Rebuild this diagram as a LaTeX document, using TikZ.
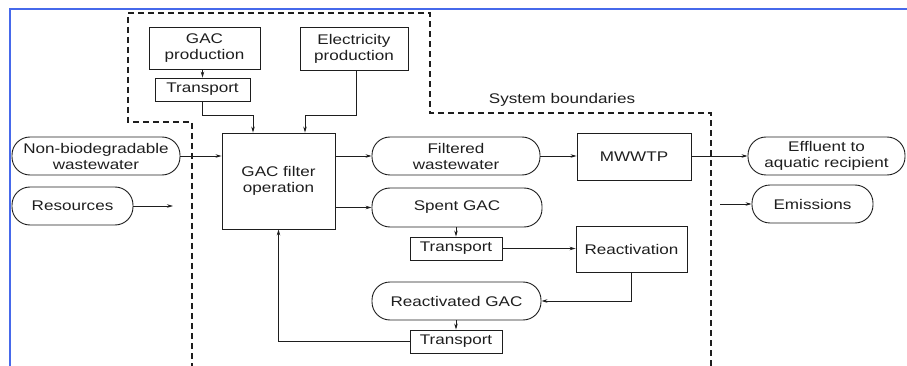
\documentclass[tikz,border=0pt]{standalone}
\usepackage{fontspec}
\setmainfont[FakeStretch=1.22]{Liberation Sans}
\usetikzlibrary{arrows.meta,calc}
\definecolor{frameblue}{RGB}{70,105,235}
\definecolor{ink}{RGB}{30,30,30}
\begin{document}
\begin{tikzpicture}[x=1pt,y=-1pt,
  every node/.style={font=\fontsize{14}{16}\selectfont, text=ink, align=center, inner sep=0pt},
  box/.style={draw=ink, line width=0.9pt, rectangle},
  pill/.style={draw=ink, line width=0.9pt, rectangle, rounded corners=18pt},
  arr/.style={draw=ink, line width=0.8pt, -{Stealth[length=6pt,width=3.5pt]}},
  bound/.style={draw=ink, line width=1.2pt, dash pattern=on 6pt off 4pt}]
\useasboundingbox (0,0) rectangle (907,366);
% blue frame lines
\draw[frameblue, line width=1.5pt] (10,366) -- (10,9) -- (907,9);
% system boundary
\draw[bound] (711,366) -- (711,113) -- (430,113) -- (430,13) -- (128,13) -- (128,122) -- (192,122) -- (192,366);
\node (sb) at (562,100) {System boundaries};
% nodes
\node[box, minimum width=111pt, minimum height=42pt] (gacprod) at (204.5,48) {GAC\\production};
\node[box, minimum width=95pt, minimum height=23pt] (tr1) at (202.5,89.5) {Transport};
\node[box, minimum width=108pt, minimum height=43pt] (elec) at (354,48.5) {Electricity\\production};
\node[box, minimum width=113pt, minimum height=96pt] (gac) at (278.5,181) {GAC filter\\operation};
\node[pill, minimum width=168pt, minimum height=38pt] (nb) at (96,156) {Non-biodegradable\\wastewater};
\node[pill, minimum width=121pt, minimum height=38pt] (res) at (72.5,206) {Resources};
\node[pill, minimum width=168pt, minimum height=38pt] (fw) at (456,156) {Filtered\\wastewater};
\node[box, minimum width=114pt, minimum height=47pt] (mw) at (634,156.5) {MWWTP};
\node[pill, minimum width=157pt, minimum height=38pt] (eff) at (826.5,156) {Effluent to\\aquatic recipient};
\node[pill, minimum width=170pt, minimum height=39pt] (sg) at (457,207.5) {Spent GAC};
\node[box, minimum width=92pt, minimum height=23pt] (tr2) at (456,248.5) {Transport};
\node[box, minimum width=111pt, minimum height=46pt] (rea) at (631.5,249) {Reactivation};
\node[pill, minimum width=169pt, minimum height=38pt] (rg) at (456.5,301) {Reactivated GAC};
\node[box, minimum width=92pt, minimum height=23pt] (tr3) at (456,341.5) {Transport};
\node[pill, minimum width=121pt, minimum height=38pt] (em) at (812.5,204) {Emissions};
\coordinate (resend) at (173,206);
\coordinate (emstart) at (720,204);
% connectors
\draw[arr] (tr1.north |- gacprod.south) -- (tr1.north);
\draw[arr] (tr1.south) -- ++(0,14) -| ([xshift=-25.5pt]gac.north);
\draw[arr] ([xshift=2pt]elec.south) -- ++(0,45) -| ([xshift=26.5pt]gac.north);
\draw[arr] (nb.east) -- (nb.east -| gac.west);
\draw[arr] (res.east) -- (resend);
\draw[arr] (fw.west -| gac.east) -- (fw.west);
\draw[arr] (fw.east) -- (fw.east -| mw.west);
\draw[arr] (eff.west -| mw.east) -- (eff.west);
\draw[arr] (sg.west -| gac.east) -- (sg.west);
\draw[arr] (tr2.north |- sg.south) -- (tr2.north);
\draw[arr] (tr2.east) -- (tr2.east -| rea.west);
\draw[arr] (rea.south) |- (rg.east);
\draw[arr] (tr3.north |- rg.south) -- (tr3.north);
\draw[arr] (tr3.west) -| (gac.south);
\draw[arr] (emstart) -- (em.west);
\end{tikzpicture}
\end{document}
